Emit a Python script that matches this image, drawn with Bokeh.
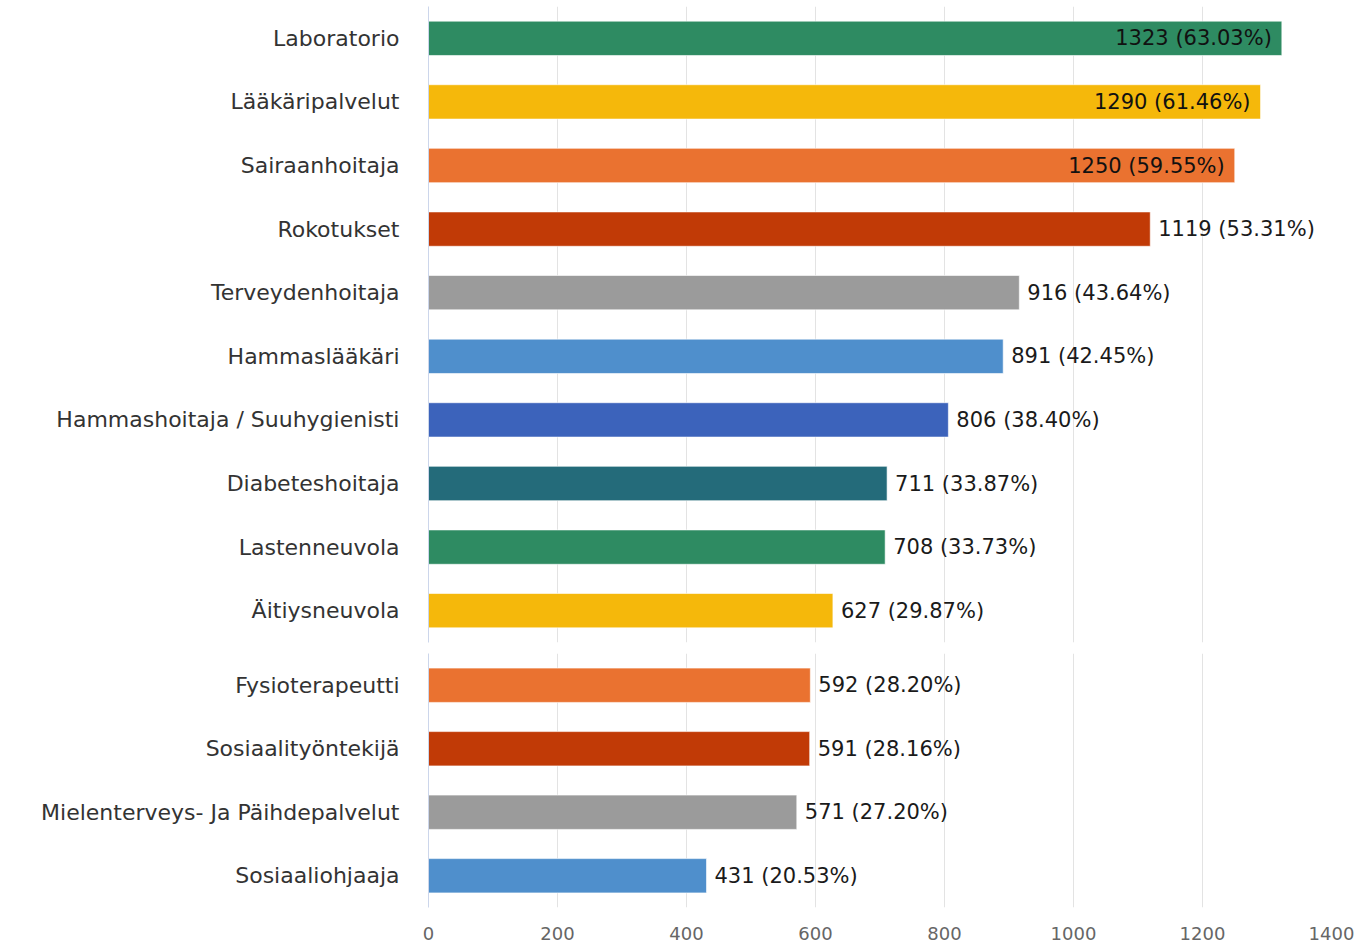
from bokeh.plotting import figure
from bokeh.layouts import column
from bokeh.models import ColumnDataSource, FactorRange, Range1d, FixedTicker
from bokeh.embed import file_html
from bokeh.resources import INLINE
from bokeh.core.properties import value

# Service usage counts and shares (two panels: health services, social & therapy services)
services_top = ["Laboratorio", "Lääkäripalvelut", "Sairaanhoitaja", "Rokotukset",
                "Terveydenhoitaja", "Hammaslääkäri", "Hammashoitaja / Suuhygienisti",
                "Diabeteshoitaja", "Lastenneuvola", "Äitiysneuvola"]
counts_top = [1323, 1290, 1250, 1119, 916, 891, 806, 711, 708, 627]
shares_top = [63.03, 61.46, 59.55, 53.31, 43.64, 42.45, 38.40, 33.87, 33.73, 29.87]

services_bottom = ["Fysioterapeutti", "Sosiaalityöntekijä",
                   "Mielenterveys- Ja Päihdepalvelut", "Sosiaaliohjaaja"]
counts_bottom = [592, 591, 571, 431]
shares_bottom = [28.20, 28.16, 27.20, 20.53]

x_ticks = [0, 200, 400, 600, 800, 1000, 1200, 1400]

PALETTE = ["#2e8b62", "#f5b80b", "#ea7230", "#c13a06", "#9b9b9b",
           "#4f8fcc", "#3c63bb", "#246b7a"]

FONT = "DejaVu Sans"
X_MAX = 1400
LEFT = 428
RIGHT = 27
WIDTH = 1358
PLOT_W = WIDTH - LEFT - RIGHT
LABEL_PX = 21
CAT_PX = 22
TICK_PX = 18


def make_panel(cats, counts, shares, height, top, bottom, show_axis, color_offset):
    labels = [f"{c} ({s:.2f}%)" for c, s in zip(counts, shares)]
    colors = [PALETTE[(i + color_offset) % len(PALETTE)] for i in range(len(cats))]
    # labels that would run past the plot edge are tucked inside the bar end
    px = PLOT_W / X_MAX
    est_w = [len(t) * LABEL_PX * 0.6 for t in labels]
    inside = [c * px + 8 + w > PLOT_W for c, w in zip(counts, est_w)]
    src = ColumnDataSource(dict(cat=cats, n=counts, color=colors, label=labels))
    src_in = ColumnDataSource(dict(cat=[c for c, f in zip(cats, inside) if f],
                                   n=[n for n, f in zip(counts, inside) if f],
                                   label=[t for t, f in zip(labels, inside) if f]))
    src_out = ColumnDataSource(dict(cat=[c for c, f in zip(cats, inside) if not f],
                                    n=[n for n, f in zip(counts, inside) if not f],
                                    label=[t for t, f in zip(labels, inside) if not f]))

    p = figure(width=WIDTH, height=height, y_range=FactorRange(*reversed(cats)),
               x_range=Range1d(0, X_MAX), output_backend="svg", toolbar_location=None,
               min_border_left=LEFT, min_border_right=RIGHT,
               min_border_top=top, min_border_bottom=bottom,
               x_axis_location="below" if show_axis else None)
    p.outline_line_color = None
    p.background_fill_color = "white"
    p.border_fill_color = "white"

    p.hbar(y="cat", right="n", left=0, height=0.54, color="color", source=src,
           line_color="white", line_alpha=0.6, line_width=1)
    p.text(x="n", y="cat", text="label", source=src_in, x_offset=-10,
           text_align="right", text_baseline="middle", text_color="#111111",
           text_font=value(FONT), text_font_size=f"{LABEL_PX}px")
    p.text(x="n", y="cat", text="label", source=src_out, x_offset=8,
           text_align="left", text_baseline="middle", text_color="#1a1a1a",
           text_font=value(FONT), text_font_size=f"{LABEL_PX}px")

    p.ygrid.grid_line_color = None
    p.xgrid.grid_line_color = "#e3e3e3"
    p.xgrid.ticker = FixedTicker(ticks=x_ticks)

    ya = p.yaxis[0]
    ya.axis_line_color = "#ccd6eb"
    ya.major_tick_line_color = None
    ya.minor_tick_line_color = None
    ya.major_label_standoff = 23
    ya.major_label_text_font = FONT
    ya.major_label_text_font_size = f"{CAT_PX}px"
    ya.major_label_text_color = "#333333"

    if show_axis:
        xa = p.xaxis[0]
        xa.ticker = FixedTicker(ticks=x_ticks)
        xa.axis_line_color = None
        xa.major_tick_line_color = None
        xa.minor_tick_line_color = None
        xa.major_label_standoff = 13
        xa.major_label_text_font = FONT
        xa.major_label_text_font_size = f"{TICK_PX}px"
        xa.major_label_text_color = "#666666"
    return p


p_top = make_panel(services_top, counts_top, shares_top, 648, 6, 6, False, 0)
p_bottom = make_panel(services_bottom, counts_bottom, shares_bottom, 299, 5, 40, True, 2)

p = column(p_top, p_bottom, spacing=0)
open("out.html", "w").write(file_html(p, INLINE))
